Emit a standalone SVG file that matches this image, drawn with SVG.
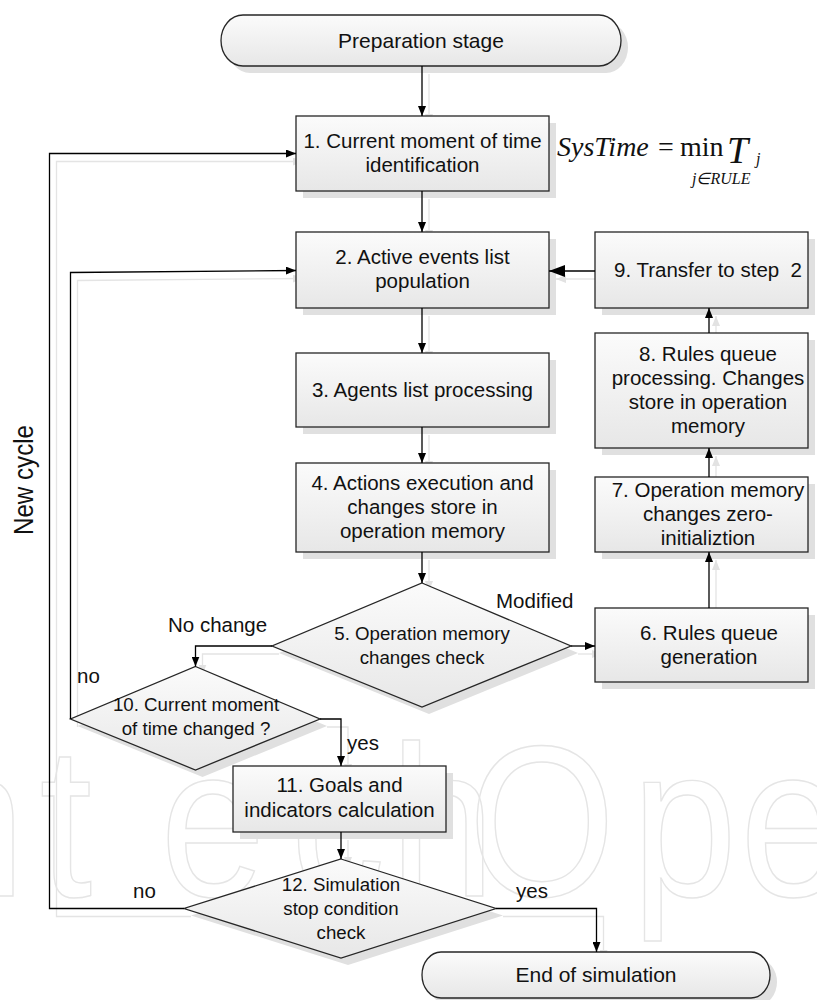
<svg xmlns="http://www.w3.org/2000/svg" width="817" height="1000" viewBox="0 0 817 1000">
  <defs>
    <linearGradient id="fillNode" x1="0" y1="0" x2="0" y2="1">
      <stop offset="0" stop-color="#fbfbfb"/>
      <stop offset="1" stop-color="#e7e7e7"/>
    </linearGradient>
    <marker id="ah" viewBox="0 0 10 8" refX="10" refY="4" markerWidth="10" markerHeight="8" markerUnits="userSpaceOnUse" orient="auto">
      <path d="M0,0 L10,4 L0,8 z" fill="#000"/>
    </marker>
    <marker id="ahBig" viewBox="0 0 16 12" refX="16" refY="6" markerWidth="16" markerHeight="12" markerUnits="userSpaceOnUse" orient="auto">
      <path d="M0,0 L16,6 L0,12 z" fill="#000"/>
    </marker>
    <marker id="ahShadow" viewBox="0 0 10 8" refX="10" refY="4" markerWidth="10" markerHeight="8" markerUnits="userSpaceOnUse" orient="auto">
      <path d="M0,0 L10,4 L0,8 z" fill="#e2e2e2"/>
    </marker>
    <style>
      .node { fill: url(#fillNode); stroke: #262626; stroke-width: 1.3; }
      .shade { fill: #e0e0e0; }
      .t { font-family: "Liberation Sans", Arial, sans-serif; font-size: 20.5px; fill: #111; text-anchor: middle; }
      .td { font-family: "Liberation Sans", Arial, sans-serif; font-size: 18.7px; fill: #111; text-anchor: middle; }
      .lbl { font-family: "Liberation Sans", Arial, sans-serif; font-size: 20.5px; fill: #111; }
      .ln { fill: none; stroke: #000; stroke-width: 1.3; marker-end: url(#ah); }
      .lns { fill: none; stroke: #e4e4e4; stroke-width: 1.3; marker-end: url(#ahShadow); }
      .math { font-family: "Liberation Serif", "Times New Roman", serif; fill: #111; }
      .wm { font-family: "Liberation Sans", Arial, sans-serif; font-size: 215px; fill: none; stroke: #e5e5e5; stroke-width: 1.5; }
    </style>
  </defs>

  <rect width="817" height="1000" fill="#fff"/>

  <!-- faint publisher mark behind the chart -->
  <text class="wm" transform="scale(0.88,1)" y="896" x="-150 -91 45 182 330 443 532 718 841 977">IntechOpen</text>

  <!-- connector shadows -->
  <g id="connector-shadows" transform="translate(7,8)">
    <path class="lns" d="M422,66 V116"/>
    <path class="lns" d="M422,191 V232"/>
    <path class="lns" d="M422,308 V353"/>
    <path class="lns" d="M422,427 V463"/>
    <path class="lns" d="M422,552 V583"/>
    <path class="lns" d="M571,646 H595"/>
    <path class="lns" d="M709,608 V552"/>
    <path class="lns" d="M709,477 V448"/>
    <path class="lns" d="M709,333 V308"/>
    <path class="lns" d="M595,271 H549"/>
    <path class="lns" d="M272,646 H195.5 V666.5"/>
    <path class="lns" d="M70.5,719 V272.5 L296,270.5"/>
    <path class="lns" d="M320,719 H341 V766"/>
    <path class="lns" d="M341,832 V859"/>
    <path class="lns" d="M184,908.5 H49.5 V153.5 H296"/>
    <path class="lns" d="M496,908.5 H596.5 V952"/>
  </g>

  <!-- Start -->
  <g id="prep">
    <rect class="shade" x="228" y="22" width="400" height="51" rx="22" ry="25.5"/>
    <rect class="node" x="221" y="15" width="400" height="51" rx="22" ry="25.5"/>
    <text class="t" x="421" y="47.5" style="font-size:21px">Preparation stage</text>
  </g>

  <g id="n1">
    <rect class="shade" x="303" y="123" width="253" height="75"/>
    <rect class="node" x="296" y="116" width="253" height="75"/>
    <text class="t" x="422.5" y="148">1. Current moment of time</text>
    <text class="t" x="422.5" y="172">identification</text>
  </g>

  <g id="formula" class="math">
    <text x="557" y="156" font-size="28" font-style="italic">SysTime</text>
    <text x="658" y="156" font-size="28">=</text>
    <text x="680" y="156" font-size="28">min</text>
    <text x="727" y="163" font-size="38" font-style="italic">T</text>
    <text x="756" y="164" font-size="16" font-style="italic">j</text>
    <text x="692" y="184" font-size="16" font-style="italic">j∈RULE</text>
  </g>

  <g id="n2">
    <rect class="shade" x="303" y="239" width="253" height="76"/>
    <rect class="node" x="296" y="232" width="253" height="76"/>
    <text class="t" x="422.5" y="264">2. Active events list</text>
    <text class="t" x="422.5" y="288">population</text>
  </g>

  <g id="n3">
    <rect class="shade" x="303" y="360" width="253" height="74"/>
    <rect class="node" x="296" y="353" width="253" height="74"/>
    <text class="t" x="422.5" y="397">3. Agents list processing</text>
  </g>

  <g id="n4">
    <rect class="shade" x="303" y="470" width="253" height="89"/>
    <rect class="node" x="296" y="463" width="253" height="89"/>
    <text class="t" x="422.5" y="490">4. Actions execution and</text>
    <text class="t" x="422.5" y="514">changes store in</text>
    <text class="t" x="422.5" y="538">operation memory</text>
  </g>

  <g id="n5">
    <polygon class="shade" points="429,590 578,653 429,714 279,653"/>
    <polygon class="node" points="422,583 571,646 422,707 272,646"/>
    <text class="td" x="422" y="640">5. Operation memory</text>
    <text class="td" x="422" y="664">changes check</text>
  </g>

  <g id="n6">
    <rect class="shade" x="602" y="615" width="213" height="74"/>
    <rect class="node" x="595" y="608" width="213" height="74"/>
    <text class="t" x="709" y="640">6. Rules queue</text>
    <text class="t" x="709" y="664">generation</text>
  </g>

  <g id="n7">
    <rect class="shade" x="602" y="484" width="213" height="75"/>
    <rect class="node" x="595" y="477" width="213" height="75"/>
    <text class="t" x="708" y="497">7. Operation memory</text>
    <text class="t" x="708" y="521">changes zero-</text>
    <text class="t" x="708" y="545">initializtion</text>
  </g>

  <g id="n8">
    <rect class="shade" x="602" y="340" width="213" height="115"/>
    <rect class="node" x="595" y="333" width="213" height="115"/>
    <text class="t" x="708" y="361">8. Rules queue</text>
    <text class="t" x="708" y="385">processing. Changes</text>
    <text class="t" x="708" y="409">store in operation</text>
    <text class="t" x="708" y="433">memory</text>
  </g>

  <g id="n9">
    <rect class="shade" x="602" y="239" width="213" height="76"/>
    <rect class="node" x="595" y="232" width="213" height="76"/>
    <text class="t" x="708" y="277" xml:space="preserve">9. Transfer to step  2</text>
  </g>

  <g id="n10">
    <polygon class="shade" points="202.5,673.5 327,726 202.5,777 77.5,726"/>
    <polygon class="node" points="195.5,666.5 320,719 195.5,770 70.5,719"/>
    <text class="td" x="196" y="711">10. Current moment</text>
    <text class="td" x="196" y="735">of time changed ?</text>
  </g>

  <g id="n11">
    <rect class="shade" x="240" y="773" width="213" height="66"/>
    <rect class="node" x="233" y="766" width="213" height="66"/>
    <text class="t" x="339.5" y="792">11. Goals and</text>
    <text class="t" x="339.5" y="817">indicators calculation</text>
  </g>

  <g id="n12">
    <polygon class="shade" points="348,866 503,915.5 348,965 191,915.5"/>
    <polygon class="node" points="341,859 496,908.5 341,958 184,908.5"/>
    <text class="td" x="341" y="891">12. Simulation</text>
    <text class="td" x="341" y="915">stop condition</text>
    <text class="td" x="341" y="939">check</text>
  </g>

  <g id="end">
    <rect class="shade" x="429" y="959" width="348" height="46" rx="19" ry="23"/>
    <rect class="node" x="422" y="952" width="348" height="46" rx="19" ry="23"/>
    <text class="t" x="596" y="982" style="font-size:21px">End of simulation</text>
  </g>

  <!-- connectors -->
  <g id="connectors">
    <path class="ln" d="M422,66 V116"/>
    <path class="ln" d="M422,191 V232"/>
    <path class="ln" d="M422,308 V353"/>
    <path class="ln" d="M422,427 V463"/>
    <path class="ln" d="M422,552 V583"/>
    <path class="ln" d="M571,646 H595"/>
    <path class="ln" d="M709,608 V552"/>
    <path class="ln" d="M709,477 V448"/>
    <path class="ln" d="M709,333 V308"/>
    <path class="ln" d="M595,271 H549" style="marker-end:url(#ahBig)"/>
    <path class="ln" d="M272,646 H195.5 V666.5"/>
    <path class="ln" d="M70.5,719 V272.5 L296,270.5"/>
    <path class="ln" d="M320,719 H341 V766"/>
    <path class="ln" d="M341,832 V859"/>
    <path class="ln" d="M184,908.5 H49.5 V153.5 H296"/>
    <path class="ln" d="M496,908.5 H596.5 V952"/>
  </g>

  <!-- connector labels -->
  <g id="labels">
    <text class="lbl" x="496" y="608">Modified</text>
    <text class="lbl" x="168" y="632">No change</text>
    <text class="lbl" x="77" y="683">no</text>
    <text class="lbl" x="347" y="750">yes</text>
    <text class="lbl" x="133" y="898">no</text>
    <text class="lbl" x="516" y="898">yes</text>
    <text transform="translate(33,480) rotate(-90)" text-anchor="middle" textLength="110" lengthAdjust="spacingAndGlyphs" style="font-family:'Liberation Sans',Arial,sans-serif;font-size:27px;fill:#111">New cycle</text>
  </g>
</svg>
